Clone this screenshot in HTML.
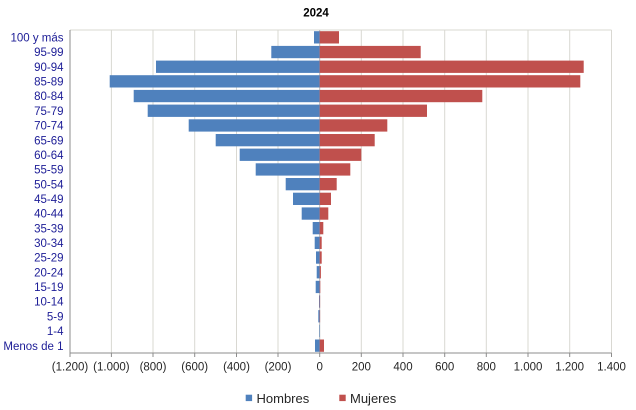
<!DOCTYPE html>
<html><head><meta charset="utf-8"><style>
html,body{margin:0;padding:0;background:#fff;}
svg{display:block;}
</style></head><body>
<svg width="636" height="410" viewBox="0 0 636 410" xmlns="http://www.w3.org/2000/svg">
<rect width="636" height="410" fill="#fff"/>
<text x="316" y="16.5" text-anchor="middle" font-family="Liberation Sans, sans-serif" font-size="11.5" font-weight="bold" fill="#000">2024</text>
<g stroke="#d9d8d2" stroke-width="1">
<line x1="70" y1="30" x2="611.5" y2="30"/>
<line x1="111.4" y1="30" x2="111.4" y2="353"/>
<line x1="153" y1="30" x2="153" y2="353"/>
<line x1="194.7" y1="30" x2="194.7" y2="353"/>
<line x1="236.5" y1="30" x2="236.5" y2="353"/>
<line x1="278" y1="30" x2="278" y2="353"/>
<line x1="319.7" y1="30" x2="319.7" y2="353" stroke="#b8b8b8"/>
<line x1="361.3" y1="30" x2="361.3" y2="353"/>
<line x1="403" y1="30" x2="403" y2="353"/>
<line x1="444.7" y1="30" x2="444.7" y2="353"/>
<line x1="486.3" y1="30" x2="486.3" y2="353"/>
<line x1="528" y1="30" x2="528" y2="353"/>
<line x1="569.7" y1="30" x2="569.7" y2="353"/>
<line x1="611.5" y1="30" x2="611.5" y2="353"/>
</g>
<g fill="#4f81bd">
<rect x="314" y="31.2" width="5.7" height="12.3"/>
<rect x="271.3" y="45.9" width="48.4" height="12.3"/>
<rect x="156" y="60.6" width="163.7" height="12.3"/>
<rect x="109.7" y="75.2" width="210" height="12.3"/>
<rect x="133.7" y="89.9" width="186" height="12.3"/>
<rect x="147.7" y="104.6" width="172" height="12.3"/>
<rect x="188.7" y="119.3" width="131" height="12.3"/>
<rect x="215.7" y="134" width="104" height="12.3"/>
<rect x="239.7" y="148.6" width="80" height="12.3"/>
<rect x="255.7" y="163.3" width="64" height="12.3"/>
<rect x="285.7" y="178" width="34" height="12.3"/>
<rect x="293" y="192.7" width="26.7" height="12.3"/>
<rect x="301.7" y="207.4" width="18" height="12.3"/>
<rect x="312.7" y="222" width="7" height="12.3"/>
<rect x="314.7" y="236.7" width="5" height="12.3"/>
<rect x="316" y="251.4" width="3.7" height="12.3"/>
<rect x="316.7" y="266.1" width="3" height="12.3"/>
<rect x="315.7" y="280.8" width="4" height="12.3"/>
<rect x="319" y="295.4" width="0.7" height="12.3"/>
<rect x="318.3" y="310.1" width="1.4" height="12.3"/>
<rect x="319.2" y="324.8" width="0.5" height="12.3"/>
<rect x="315" y="339.5" width="4.7" height="12.3"/>
</g>
<g fill="#c0504d">
<rect x="319.7" y="31.2" width="19.3" height="12.3"/>
<rect x="319.7" y="45.9" width="101" height="12.3"/>
<rect x="319.7" y="60.6" width="264" height="12.3"/>
<rect x="319.7" y="75.2" width="260.6" height="12.3"/>
<rect x="319.7" y="89.9" width="162.6" height="12.3"/>
<rect x="319.7" y="104.6" width="107.3" height="12.3"/>
<rect x="319.7" y="119.3" width="67.6" height="12.3"/>
<rect x="319.7" y="134" width="55" height="12.3"/>
<rect x="319.7" y="148.6" width="41.6" height="12.3"/>
<rect x="319.7" y="163.3" width="30.6" height="12.3"/>
<rect x="319.7" y="178" width="17" height="12.3"/>
<rect x="319.7" y="192.7" width="11.3" height="12.3"/>
<rect x="319.7" y="207.4" width="8.6" height="12.3"/>
<rect x="319.7" y="222" width="3.6" height="12.3"/>
<rect x="319.7" y="236.7" width="2" height="12.3"/>
<rect x="319.7" y="251.4" width="2" height="12.3"/>
<rect x="319.7" y="266.1" width="1.2" height="12.3"/>
<rect x="319.7" y="280.8" width="0.6" height="12.3"/>
<rect x="319.7" y="295.4" width="0.4" height="12.3"/>
<rect x="319.7" y="310.1" width="0.4" height="12.3"/>
<rect x="319.7" y="339.5" width="4.3" height="12.3"/>
</g>
<g stroke="#8c8c8c" stroke-width="1">
<line x1="70" y1="30" x2="70" y2="353.5"/>
<line x1="70" y1="353" x2="611.5" y2="353"/>
<line x1="70" y1="353" x2="70" y2="357"/>
<line x1="111.4" y1="353" x2="111.4" y2="357"/>
<line x1="153" y1="353" x2="153" y2="357"/>
<line x1="194.7" y1="353" x2="194.7" y2="357"/>
<line x1="236.5" y1="353" x2="236.5" y2="357"/>
<line x1="278" y1="353" x2="278" y2="357"/>
<line x1="319.7" y1="353" x2="319.7" y2="357"/>
<line x1="361.3" y1="353" x2="361.3" y2="357"/>
<line x1="403" y1="353" x2="403" y2="357"/>
<line x1="444.7" y1="353" x2="444.7" y2="357"/>
<line x1="486.3" y1="353" x2="486.3" y2="357"/>
<line x1="528" y1="353" x2="528" y2="357"/>
<line x1="569.7" y1="353" x2="569.7" y2="357"/>
<line x1="611.5" y1="353" x2="611.5" y2="357"/>
</g>
<g font-family="Liberation Sans, sans-serif" font-size="11.5" fill="#1c1c96" text-anchor="end">
<text x="63.5" y="41.5">100 y más</text>
<text x="63.5" y="56.2">95-99</text>
<text x="63.5" y="70.9">90-94</text>
<text x="63.5" y="85.5">85-89</text>
<text x="63.5" y="100.2">80-84</text>
<text x="63.5" y="114.9">75-79</text>
<text x="63.5" y="129.6">70-74</text>
<text x="63.5" y="144.3">65-69</text>
<text x="63.5" y="158.9">60-64</text>
<text x="63.5" y="173.6">55-59</text>
<text x="63.5" y="188.3">50-54</text>
<text x="63.5" y="203">45-49</text>
<text x="63.5" y="217.7">40-44</text>
<text x="63.5" y="232.3">35-39</text>
<text x="63.5" y="247">30-34</text>
<text x="63.5" y="261.7">25-29</text>
<text x="63.5" y="276.4">20-24</text>
<text x="63.5" y="291.1">15-19</text>
<text x="63.5" y="305.7">10-14</text>
<text x="63.5" y="320.4">5-9</text>
<text x="63.5" y="335.1">1-4</text>
<text x="63.5" y="349.8">Menos de 1</text>
</g>
<g font-family="Liberation Sans, sans-serif" font-size="11.5" fill="#262626" text-anchor="middle">
<text x="70" y="370.5">(1.200)</text>
<text x="111.4" y="370.5">(1.000)</text>
<text x="153" y="370.5">(800)</text>
<text x="194.7" y="370.5">(600)</text>
<text x="236.5" y="370.5">(400)</text>
<text x="278" y="370.5">(200)</text>
<text x="319.7" y="370.5">0</text>
<text x="361.3" y="370.5">200</text>
<text x="403" y="370.5">400</text>
<text x="444.7" y="370.5">600</text>
<text x="486.3" y="370.5">800</text>
<text x="528" y="370.5">1.000</text>
<text x="569.7" y="370.5">1.200</text>
<text x="611.5" y="370.5">1.400</text>
</g>
<rect x="245.7" y="394.7" width="6.4" height="6.4" fill="#4f81bd"/>
<text x="256.5" y="403.2" font-family="Liberation Sans, sans-serif" font-size="13" fill="#262626">Hombres</text>
<rect x="339.3" y="394.7" width="6.4" height="6.4" fill="#c0504d"/>
<text x="350" y="403.2" font-family="Liberation Sans, sans-serif" font-size="13" fill="#262626">Mujeres</text>
</svg>
</body></html>
